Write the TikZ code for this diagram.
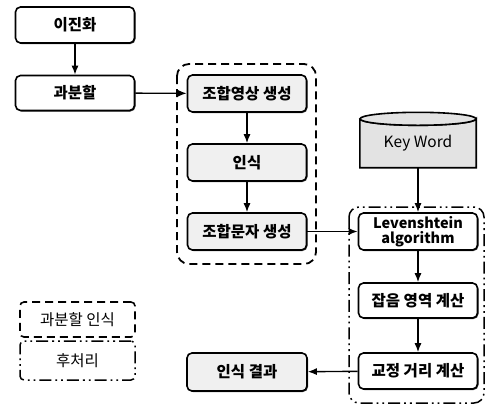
\documentclass[tikz,border=0pt]{standalone}
\usepackage{fontspec}
\setmainfont{Noto Sans CJK KR}
\usetikzlibrary{arrows.meta,shadows}
\begin{document}
\begin{tikzpicture}[x=1pt,y=-1pt,
  box/.style={draw, line width=1.6pt, rounded corners=5pt, minimum width=119pt,
    minimum height=36pt, inner sep=2pt, align=center, fill=white,
    font=\fontsize{15.5}{17}\selectfont\bfseries,
    drop shadow={shadow xshift=1pt, shadow yshift=-1pt, fill=black!75, opacity=1}},
  gbox/.style={box, fill=gray!12},
  conn/.style={line width=1.4pt, -{Latex[length=9pt,width=7pt]}},
  grpdash/.style={line width=1.8pt, dash pattern=on 8pt off 5pt, rounded corners=12pt},
  grpdot/.style={line width=1.5pt, dash pattern=on 12pt off 4pt on 1.8pt off 4pt on 1.8pt off 4pt, rounded corners=10pt},
  legend/.style={minimum width=115pt, inner sep=2pt, font=\fontsize{15.5}{17}\selectfont},
]
\useasboundingbox (0,0) rectangle (487,405);

% groups
\draw[grpdash] (177,64) rectangle (316,264);
\draw[grpdot] (349,207) rectangle (484,403);

% left column
\node[box] (b1) at (75,25) {이진화};
\node[box, minimum height=35pt] (b2) at (75,93) {과분할};

% middle column
\node[gbox, minimum height=37pt] (m1) at (247,93.5) {조합영상 생성};
\node[gbox, minimum height=37pt] (m2) at (247,162.5) {인식};
\node[gbox, minimum height=37pt] (m3) at (247,231.5) {조합문자 생성};
\node[gbox, minimum width=120pt, minimum height=38pt] (res) at (247,372) {인식 결과};

% right column
\node[box, minimum height=37pt, font=\fontsize{14.5}{15}\selectfont\bfseries] (r1) at (418,231.5) {Levenshtein\\algorithm};
\node[box, minimum height=35pt] (r2) at (418,300.5) {잡음 영역 계산};
\node[box, minimum height=36pt] (r3) at (418,371) {교정 거리 계산};

% key word cylinder
\node[minimum width=116pt, minimum height=55pt, inner sep=0pt] (kw) at (418,140) {};
\fill[black!75] ([xshift=1pt,yshift=-1pt]kw.north west) ++(0,6.5) -- ++(0,48.5) -- ++(116,0) -- ++(0,-48.5) -- cycle;
\draw[line width=1.6pt, fill=gray!22] ([yshift=-6.5pt]kw.north west) -- (kw.south west) -- (kw.south east) -- ([yshift=-6.5pt]kw.north east)
  arc[start angle=0, end angle=-180, x radius=58pt, y radius=6.5pt];
\draw[line width=1.6pt, fill=gray!22] ([yshift=-6.5pt]kw.north) ellipse[x radius=58pt, y radius=6.5pt];
\node[font=\fontsize{15.5}{17}\selectfont] (kwt) at (418,143) {Key Word};

% connectors
\draw[conn] (b1) -- (b2);
\draw[conn] (b2) -- (m1);
\draw[conn] (m1) -- (m2);
\draw[conn] (m2) -- (m3);
\draw[conn] (m3) -- (r1);
\draw[conn] (kw.south) -- (r1.north);
\draw[conn] (r1) -- (r2);
\draw[conn] (r2) -- (r3);
\draw[conn] (r3) -- (res);

% legend
\node[legend, draw, line width=1.6pt, dash pattern=on 8pt off 5pt, rounded corners=4pt, minimum height=35pt] (l1) at (77.5,319.5) {과분할 인식};
\node[legend, draw, line width=1.5pt, dash pattern=on 12pt off 4pt on 1.8pt off 4pt on 1.8pt off 4pt, rounded corners=4pt, minimum height=39pt] (l2) at (77.5,360.5) {후처리};
\end{tikzpicture}
\end{document}
